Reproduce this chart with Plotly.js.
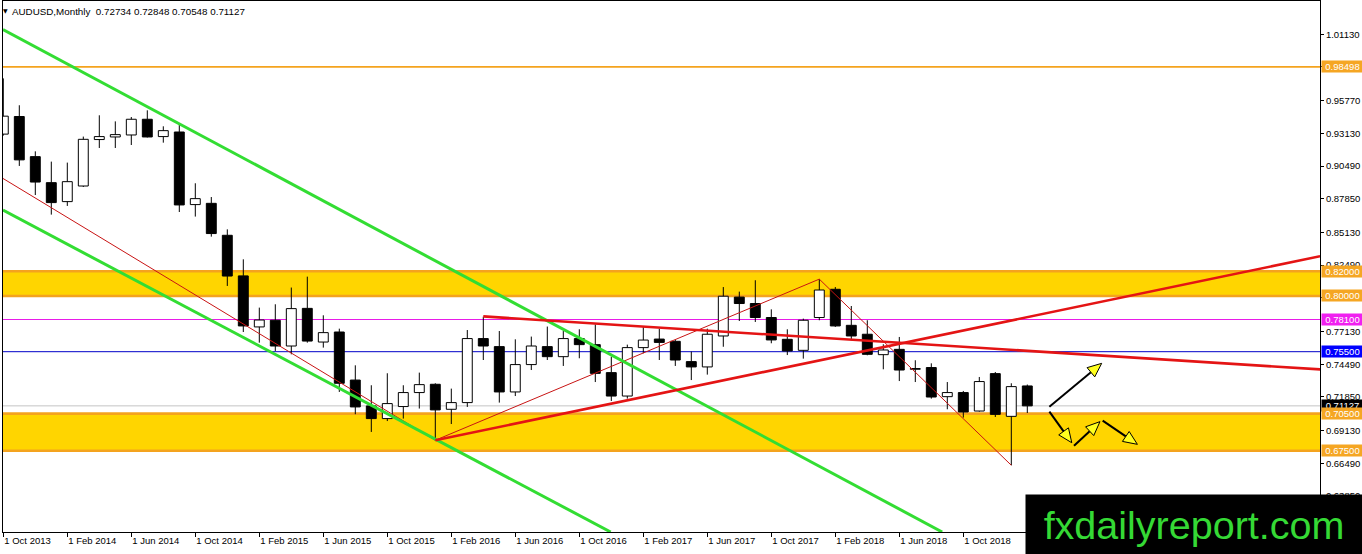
<!DOCTYPE html>
<html><head><meta charset="utf-8">
<script src="https://cdn.plot.ly/plotly-3.0.1.min.js"></script>
<style>html,body{margin:0;padding:0;background:#fff;overflow:hidden}#chart{width:1362px;height:554px}</style>
</head><body><div id="chart"></div>
<script>
// ---- data (monthly AUDUSD candles, Oct 2013 .. Feb 2019; index 0 = Oct 2013) ----
const openP  = [0.9307,0.9449,0.9125,0.8915,0.8762,0.8888,0.9263,0.9284,0.9300,0.9427,0.9287,0.9324,0.8738,0.8748,0.8490,0.8162,0.7750,0.7804,0.7596,0.7900,0.7628,0.7709,0.7321,0.7112,0.7010,0.7107,0.7220,0.7287,0.7085,0.7139,0.7656,0.7591,0.7225,0.7446,0.7591,0.7510,0.7656,0.7607,0.7381,0.7192,0.7583,0.7652,0.7634,0.7470,0.7427,0.7677,0.7991,0.7939,0.7826,0.7650,0.7561,0.7826,0.8054,0.7763,0.7691,0.7526,0.7569,0.7408,0.7422,0.7187,0.7220,0.7071,0.7373,0.7028,0.72734];
const highP  = [0.9757,0.9540,0.9168,0.9085,0.9077,0.9287,0.9459,0.9410,0.9445,0.9499,0.9370,0.9386,0.8910,0.8799,0.8538,0.8296,0.7906,0.7933,0.8068,0.8156,0.7844,0.7736,0.7440,0.7279,0.7376,0.7279,0.7381,0.7295,0.7252,0.7725,0.7833,0.7717,0.7650,0.7672,0.7753,0.7717,0.7731,0.7771,0.7510,0.7607,0.7753,0.7736,0.7645,0.7551,0.7736,0.8072,0.8035,0.8127,0.7892,0.7731,0.7817,0.8135,0.8072,0.7919,0.7804,0.7610,0.7669,0.7481,0.7456,0.7305,0.7233,0.7346,0.7386,0.7295,0.72848];
const lowP   = [0.9295,0.9050,0.8815,0.8657,0.8727,0.8880,0.9195,0.9195,0.9219,0.9280,0.9238,0.8678,0.8641,0.8479,0.8081,0.7709,0.7623,0.7556,0.7529,0.7623,0.7583,0.7225,0.7045,0.6902,0.6990,0.7010,0.7091,0.6835,0.6966,0.7104,0.7483,0.7139,0.7192,0.7402,0.7483,0.7435,0.7497,0.7305,0.7152,0.7171,0.7537,0.7483,0.7435,0.7321,0.7365,0.7590,0.7798,0.7790,0.7618,0.7523,0.7494,0.7804,0.7750,0.7642,0.7521,0.7408,0.7313,0.7305,0.7171,0.7085,0.7018,0.7066,0.7023,0.6633,0.70548];
const closeP = [0.9452,0.9099,0.8920,0.8754,0.8923,0.9265,0.9287,0.9303,0.9427,0.9284,0.9335,0.8735,0.8786,0.8504,0.8161,0.7758,0.7806,0.7596,0.7898,0.7636,0.7704,0.7295,0.7104,0.7010,0.7131,0.7220,0.7284,0.7080,0.7139,0.7656,0.7596,0.7225,0.7446,0.7596,0.7510,0.7656,0.7607,0.7375,0.7192,0.7583,0.7644,0.7625,0.7483,0.7427,0.7691,0.7998,0.7939,0.7826,0.7645,0.7556,0.7804,0.8048,0.7758,0.7677,0.7529,0.7564,0.7402,0.7414,0.7184,0.7220,0.7063,0.7309,0.7044,0.7268,0.71127];

const xTickIdx    = [0,4,8,12,16,20,24,28,32,36,40,44,48,52,56,60];
const xTickLabels = ["1 Oct 2013","1 Feb 2014","1 Jun 2014","1 Oct 2014","1 Feb 2015","1 Jun 2015","1 Oct 2015","1 Feb 2016","1 Jun 2016","1 Oct 2016","1 Feb 2017","1 Jun 2017","1 Oct 2017","1 Feb 2018","1 Jun 2018","1 Oct 2018"];
const yTickVals   = [1.0113,0.9849,0.9577,0.9313,0.9049,0.8785,0.8513,0.8249,0.7985,0.7713,0.7449,0.7185,0.6913,0.6649,0.6385];

const headerText = "AUDUSD,Monthly\u00a0\u00a00.72734 0.72848 0.70548 0.71127";

// price levels (horizontal lines) and zones
const levelPrices = [0.98498, 0.78100, 0.75500, 0.71127];
const levelColors = ["#F4A31E", "#E81CE8", "#0000C8", "#C4C4C4"];
const levelWidths = [1.8, 1.2, 1, 1];
const zoneUpper = [0.80, 0.82];
const zoneLower = [0.675, 0.705];
// right-axis price tags
const tagPrices = [0.98498, 0.82000, 0.80000, 0.78100, 0.75500, 0.71127, 0.70500, 0.67500];
const tagColors = ["#F5A623","#F5A623","#F5A623","#F020F0","#0000FF","#000000","#F5A623","#F5A623"];

// trendlines: [x1, price1, x2, price2] (x in months from Oct 2013)
const greenLines  = [[-0.02,1.0152,58.68,0.6094],[-0.02,0.8693,37.96,0.6094]];
const thinRed     = [[-0.02,0.8949,27,0.6835],[27,0.6835,51,0.8136],[51,0.8136,63,0.6633]];
const thickRed    = [[27,0.6835,82.3,0.8321],[30,0.7835,82.3,0.7407]];
const arrowsDrawn = [[65.38,0.7106,68.65,0.7456],[65.38,0.7066,66.78,0.6815],[66.92,0.6791,68.54,0.6985],[68.71,0.6993,70.88,0.6802]];

// ---- geometry ----
const W = 1362, H = 554;
const M = {l:3, r:42, t:1, b:22};
const xRange = [-0.01875, 82.294];
const yRange = [0.60941, 1.03819];
const plotW = W - M.l - M.r, plotH = H - M.t - M.b;
const pxK = plotW / (xRange[1]-xRange[0]);
const pxP = plotH / (yRange[1]-yRange[0]);

// ---- candles ----
const idx = openP.map((_, i) => i);
const wx = [], wy = [];
const bodyBase = [], bodyH = [], bodyCol = [];
idx.forEach(i => {
  const top = Math.max(openP[i], closeP[i]), bot = Math.min(openP[i], closeP[i]);
  wx.push(i, i, null, i, i, null);
  wy.push(highP[i], top, null, bot, lowP[i], null);
  bodyBase.push(bot);
  bodyH.push(Math.max(top - bot, 0.0004));
  bodyCol.push(closeP[i] >= openP[i] ? "#FFFFFF" : "#000000");
});

const traces = [
  {type:"bar", x: idx, y: bodyH, base: bodyBase, width: 0.62,
   marker:{color: bodyCol, line:{color:"#000", width:1}}, hoverinfo:"skip", showlegend:false},
  {type:"scatter", mode:"lines", x: wx, y: wy, line:{color:"#000", width:1},
   hoverinfo:"skip", showlegend:false, connectgaps:false}
];

// ---- shapes ----
const shapes = [];
[zoneUpper, zoneLower].forEach(z => {
  shapes.push({type:"rect", xref:"paper", x0:0, x1:1, yref:"y", y0:z[0], y1:z[1],
    fillcolor:"#FFD500", line:{width:0}, layer:"below"});
  z.forEach(p => shapes.push({type:"line", xref:"paper", x0:0, x1:1, yref:"y", y0:p, y1:p,
    line:{color:"#F4A31E", width:2.6}, layer:"below"}));
});
levelPrices.forEach((p, i) => shapes.push({type:"line", xref:"paper", x0:0, x1:1, yref:"y", y0:p, y1:p,
  line:{color: levelColors[i], width: levelWidths[i]}, layer:"below"}));

const seg = (a, color, width) => ({type:"line", xref:"x", yref:"y", x0:a[0], y0:a[1], x1:a[2], y1:a[3],
  line:{color, width}, layer:"above"});
thinRed.forEach(a => shapes.push(seg(a, "#C81414", 1)));
greenLines.forEach(a => shapes.push(seg(a, "#33DD33", 3)));
thickRed.forEach(a => shapes.push(seg(a, "#E41414", 2.6)));

function arrowShapes(a) {
  const [k1,p1,k2,p2] = a;
  const dx = (k2-k1)*pxK, dy = -(p2-p1)*pxP;
  const L = Math.hypot(dx, dy), ux = dx/L, uy = dy/L;
  const hl = 14, hw = 6;
  const bx = -ux*hl, by = -uy*hl;
  const nx = -uy, ny = ux;
  const toK = ox => k2 + ox/pxK, toP = oy => p2 - oy/pxP;
  const c1 = [toK(bx + nx*hw), toP(by + ny*hw)];
  const c2 = [toK(bx - nx*hw), toP(by - ny*hw)];
  return [
    {type:"line", xref:"x", yref:"y", x0:k1, y0:p1, x1:toK(bx), y1:toP(by),
     line:{color:"#000", width:2}, layer:"above"},
    {type:"path", xref:"x", yref:"y",
     path:`M ${k2},${p2} L ${c1[0]},${c1[1]} L ${c2[0]},${c2[1]} Z`,
     fillcolor:"#FFFF1E", line:{color:"#000", width:1}, layer:"above"}
  ];
}
arrowsDrawn.forEach(a => shapes.push(...arrowShapes(a)));

// ---- annotations ----
const font = "Liberation Sans, Arial, sans-serif";
const annotations = [];
tagPrices.forEach((p, i) => annotations.push({
  xref:"paper", x:1, xanchor:"left", xshift:1, yref:"y", y:p, yanchor:"middle",
  text: p.toFixed(5), showarrow:false, bgcolor: tagColors[i], borderpad:0,
  width:41, height:11, align:"center", font:{family:font, size:9.5, color:"#FFFFFF"}
}));
annotations.push({xref:"paper", x:(5.5-M.l)/plotW, xanchor:"center", yref:"paper", y:(H-M.b-10.5)/plotH,
  yanchor:"middle", text:"\u25BC", showarrow:false, font:{family:"DejaVu Sans", size:6, color:"#000"}});
annotations.push({xref:"paper", x:(10-M.l)/plotW, xanchor:"left", yref:"paper", y:(H-M.b-11.5)/plotH,
  yanchor:"middle", text: headerText, showarrow:false, font:{family:font, size:9.8, color:"#000"}});
annotations.push({xref:"paper", x:(1194-M.l)/plotW, xanchor:"center", yref:"paper", y:(H-M.b-524.5)/plotH,
  yanchor:"middle", text:"fxdailyreport.com", showarrow:false, bgcolor:"#000000", borderpad:0,
  width:336, height:59, font:{family:font, size:39.5, color:"#35D935"}});

const layout = {
  width: W, height: H, margin: M,
  paper_bgcolor:"#FFFFFF", plot_bgcolor:"#FFFFFF",
  showlegend:false, bargap:0,
  xaxis:{range:xRange, fixedrange:true, showgrid:false, zeroline:false,
    showline:true, mirror:true, linecolor:"#000", linewidth:1,
    tickmode:"array", tickvals:xTickIdx, ticktext:xTickLabels,
    ticks:"outside", ticklen:4, tickcolor:"#000", tickwidth:1,
    ticklabelposition:"outside right", tickfont:{family:font, size:9.5, color:"#000"}},
  yaxis:{range:yRange, side:"right", fixedrange:true, showgrid:false, zeroline:false,
    showline:true, mirror:true, linecolor:"#000", linewidth:1,
    tickmode:"array", tickvals:yTickVals, ticktext:yTickVals.map(v => v.toFixed(5)),
    ticks:"outside", ticklen:3, tickcolor:"#000", tickwidth:1,
    tickfont:{family:font, size:9.5, color:"#000"}},
  shapes, annotations
};

Plotly.newPlot("chart", traces, layout, {displayModeBar:false, staticPlot:true});
</script>
</body></html>
